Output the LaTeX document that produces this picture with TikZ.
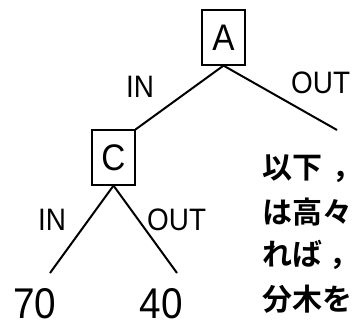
\documentclass[tikz,border=0pt]{standalone}
\usepackage{fontspec}
\newfontfamily\lat[FakeStretch=0.9]{Liberation Sans}
\newfontfamily\jpb{Noto Sans CJK JP Bold}
\tikzset{
  x=1pt, y=-1pt,
  treebox/.style={draw, line width=1.2pt, minimum width=43pt, minimum height=55pt, inner sep=0pt, font=\lat\fontsize{37}{40}\selectfont},
  edge/.style={line width=2pt},
  lbl/.style={inner sep=0pt, font=\lat\fontsize{31}{34}\selectfont},
  leaf/.style={inner sep=0pt, font=\lat\fontsize{43}{46}\selectfont},
  jtext/.style={inner sep=0pt, anchor=west, font=\jpb\fontsize{30}{34}\selectfont}
}
\begin{document}
\begin{tikzpicture}
\useasboundingbox (0,0) rectangle (352,325);
\clip (0,0) rectangle (352,325);
\node[treebox] (A) at (223.5,37.5) {A};
\node[treebox] (C) at (113.5,157.5) {C};
\coordinate (R) at (337,130);
\coordinate (L1) at (50,273);
\coordinate (L2) at (177,273);
\draw[edge] (A.south) -- (C.north east);
\draw[edge] (A.south) -- (R);
\draw[edge] (C.south) -- (L1);
\draw[edge] (C.south) -- (L2);
\node[lbl] (in1) at (140,87) {IN};
\node[lbl, anchor=west] (out1) at (291,83) {OUT};
\node[lbl] (in2) at (52,220) {IN};
\node[lbl, anchor=west] (out2) at (147,220) {OUT};
\node[leaf] (n70) at (35,304) {70};
\node[leaf] (n40) at (161.5,304) {40};
\node[jtext] (j1) at (262,169) {以下\kern10pt，\kern-20pt};
\node[jtext] (j2) at (262,212.5) {は高々};
\node[jtext] (j3) at (262,255) {れば\kern7pt，\kern-20pt};
\node[jtext] (j4) at (262,299) {分木を};
\end{tikzpicture}
\end{document}
